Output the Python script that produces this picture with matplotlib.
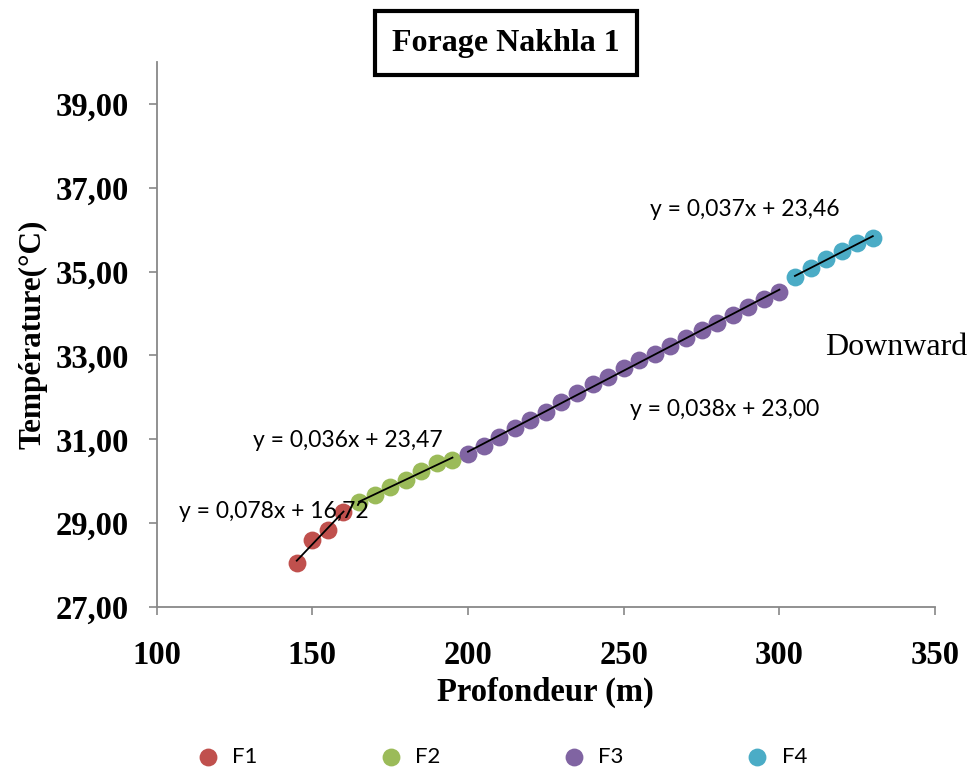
import numpy as np
import matplotlib.pyplot as plt
from matplotlib.ticker import FuncFormatter

# depth (m) and temperature (degC) per section
x_f1 = [145, 150, 155, 160]
y_f1 = [28.05, 28.60, 28.84, 29.27]

x_f2 = [165, 170, 175, 180, 185, 190, 195]
y_f2 = [29.51, 29.67, 29.86, 30.03, 30.25, 30.43, 30.51]

x_f3 = [200, 205, 210, 215, 220, 225, 230, 235, 240, 245, 250,
        255, 260, 265, 270, 275, 280, 285, 290, 295, 300]
y_f3 = [30.65, 30.84, 31.06, 31.26, 31.46, 31.66, 31.90, 32.10, 32.32, 32.49, 32.69,
        32.89, 33.04, 33.23, 33.41, 33.61, 33.77, 33.97, 34.15, 34.34, 34.52]

x_f4 = [305, 310, 315, 320, 325, 330]
y_f4 = [34.88, 35.08, 35.29, 35.48, 35.68, 35.81]

names = ["F1", "F2", "F3", "F4"]
equations = ["y = 0,078x + 16,72", "y = 0,036x + 23,47",
             "y = 0,038x + 23,00", "y = 0,037x + 23,46"]
colors = ["#C0504D", "#9BBB59", "#8064A2", "#4BACC6"]

series = [(x_f1, y_f1), (x_f2, y_f2), (x_f3, y_f3), (x_f4, y_f4)]
eq_xy = [(137.5, 29.27), (161.5, 30.98), (282.5, 31.70), (289, 36.47)]

fig = plt.figure(figsize=(9.73, 7.71), dpi=100)
ax = fig.add_axes([0.161, 0.2127, 0.8, 0.707])

for (xs, ys), name, col in zip(series, names, colors):
    ax.scatter(xs, ys, s=165, color=col, label=name, zorder=3, linewidths=0)
    k, b = np.polyfit(xs, ys, 1)
    xx = np.array([xs[0], xs[-1]])
    ax.plot(xx, k * xx + b, color="black", lw=1.3, zorder=4)

for txt, (ex, ey) in zip(equations, eq_xy):
    ax.text(ex, ey, txt, fontsize=16.5, family="Lato", ha="center", va="center", zorder=5)

ax.text(337.5, 33.2, "Downward", fontsize=23, family="Liberation Serif",
        ha="center", va="center")

ax.set_xlim(100, 350)
ax.set_ylim(27, 40)
ax.set_xticks(np.arange(100, 351, 50))
ax.set_yticks(np.arange(27, 40, 2))
ax.yaxis.set_major_formatter(FuncFormatter(lambda v, p: f"{v:.2f}".replace(".", ",")))

for s in ["top", "right"]:
    ax.spines[s].set_visible(False)
for s in ["left", "bottom"]:
    ax.spines[s].set_color("#888888")
    ax.spines[s].set_linewidth(1.3)
ax.tick_params(direction="out", length=6, width=1.2, color="#888888")
ax.tick_params(axis="x", pad=18)
ax.tick_params(axis="y", pad=14)
for lab in ax.get_xticklabels() + ax.get_yticklabels():
    lab.set_fontfamily("Liberation Serif")
    lab.set_fontweight("bold")
    lab.set_fontsize(23.5)

ax.set_xlabel("Profondeur (m)", family="Liberation Serif", fontweight="bold",
              fontsize=23.5, labelpad=4)
ax.set_ylabel("Température(°C)", family="Liberation Serif", fontweight="bold",
              fontsize=22.5, labelpad=6)

fig.text(0.520, 0.944, "Forage Nakhla 1", family="Liberation Serif", fontweight="bold",
         fontsize=23, ha="center", va="center",
         bbox=dict(boxstyle="square,pad=0.55", facecolor="white", edgecolor="black", linewidth=3))

leg = fig.legend(loc="center", bbox_to_anchor=(0.51, 0.018), ncol=4, frameon=False,
                 prop={"family": "Lato", "size": 16}, columnspacing=5.0,
                 handletextpad=0.1)

fig.savefig("out.png", dpi=100)
